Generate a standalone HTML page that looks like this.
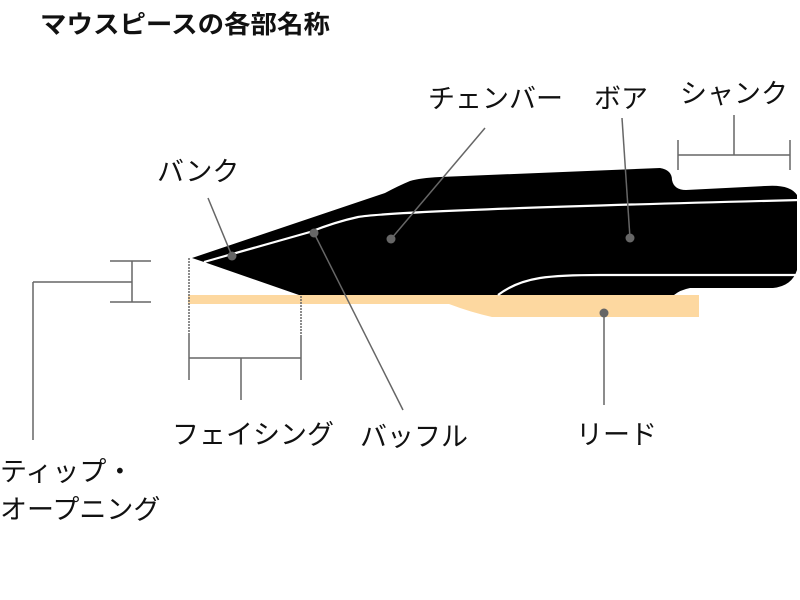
<!DOCTYPE html>
<html><head><meta charset="utf-8"><style>
html,body{margin:0;padding:0;background:#fff;}
svg{display:block;}
text{font-family:"Liberation Sans","Noto Sans CJK JP",sans-serif;fill:#111;}
</style></head><body>
<svg width="800" height="600" viewBox="0 0 800 600" xmlns="http://www.w3.org/2000/svg">
<rect width="800" height="600" fill="#fff"/>
<text x="40" y="33" font-size="25" font-weight="bold" textLength="290" lengthAdjust="spacingAndGlyphs">マウスピースの各部名称</text>
<!-- reed -->
<path d="M188 295 L699 295 L699 317 L492 317 Q470 312 449 304 L188 304 Z" fill="#fdd8a0"/>
<!-- mouthpiece -->
<path d="M192 258 L385 193 Q398 186 410 181 Q420 178 440 177 L660 168 Q672 170 672 180 Q674 190 686 190 L765 186 Q790 184 797 195 L797 270 Q792 286 773 288 L690 288 Q680 290 674 295 L299 295 L204 262 Z" fill="#000"/>
<!-- white lines -->
<path d="M204 262 L310 232 Q335 222 358 217 Q400 210 800 200" fill="none" stroke="#fff" stroke-width="2.2"/>
<path d="M498 295 Q515 282 540 278 Q560 275 600 275 L800 275" fill="none" stroke="#fff" stroke-width="2.2"/>
<g stroke="#666" stroke-width="1.5" fill="none">
<line x1="208" y1="198" x2="232" y2="256"/>
<line x1="485" y1="128" x2="391" y2="239"/>
<line x1="622" y1="118" x2="630" y2="238"/>
<line x1="314" y1="233" x2="403" y2="410"/>
<line x1="604" y1="313" x2="604" y2="405"/>
<line x1="678" y1="155" x2="790" y2="155"/>
<line x1="678" y1="140" x2="678" y2="170"/>
<line x1="790" y1="140" x2="790" y2="170"/>
<line x1="734" y1="115" x2="734" y2="155"/>
<line x1="189" y1="335" x2="189" y2="380"/>
<line x1="301" y1="335" x2="301" y2="380"/>
<line x1="189" y1="358" x2="301" y2="358"/>
<line x1="241" y1="358" x2="241" y2="400"/>
<line x1="110" y1="261" x2="151" y2="261"/>
<line x1="110" y1="302" x2="151" y2="302"/>
<line x1="132" y1="261" x2="132" y2="302"/>
<line x1="33" y1="282" x2="132" y2="282"/>
<line x1="33" y1="282" x2="33" y2="440"/>
<line x1="189" y1="258" x2="189" y2="335" stroke-dasharray="2 1"/>
<line x1="301" y1="296" x2="301" y2="335" stroke-dasharray="2 1"/>
</g>
<g fill="#666">
<circle cx="232" cy="256" r="4.5"/>
<circle cx="314" cy="233" r="4.5"/>
<circle cx="391" cy="239" r="4.5"/>
<circle cx="630" cy="238" r="4.5"/>
<circle cx="604" cy="313" r="4.5"/>
</g>
<g font-size="27">
<text x="157" y="181">バンク</text>
<text x="428" y="108">チェンバー</text>
<text x="594" y="108">ボア</text>
<text x="680" y="103">シャンク</text>
<text x="172" y="444">フェイシング</text>
<text x="360" y="446">バッフル</text>
<text x="576" y="444">リード</text>
<text x="0" y="481">ティップ・</text>
<text x="0" y="519">オープニング</text>
</g>
</svg>
</body></html>
